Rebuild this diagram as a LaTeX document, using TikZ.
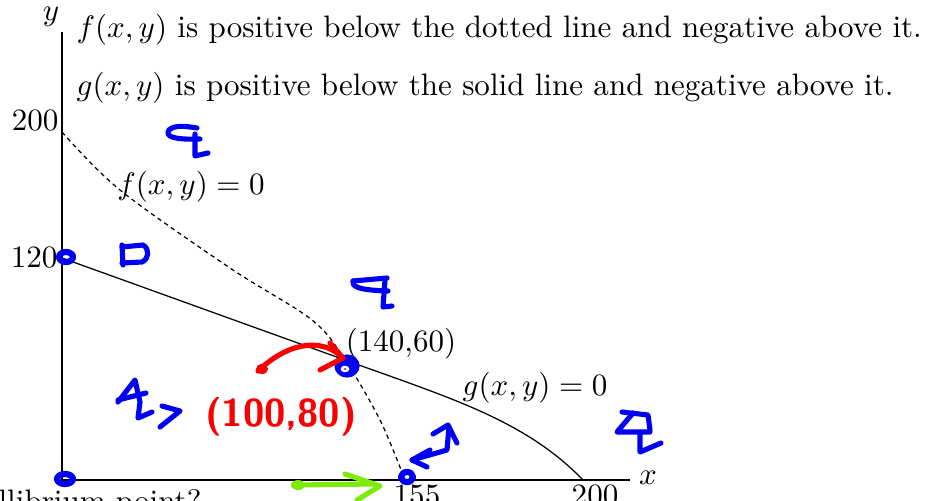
\documentclass[tikz,border=0pt]{standalone}
\definecolor{hblue}{RGB}{0,0,245}
\definecolor{hred}{RGB}{250,0,0}
\definecolor{hgreen}{RGB}{125,235,10}
\begin{document}
\begin{tikzpicture}[x=0.3222pt,y=-0.3222pt,
  axisline/.style={line width=0.4pt},
  fcurve/.style={dash pattern=on 1.4pt off 1.2pt, line width=0.4pt},
  gcurve/.style={line width=0.4pt},
  lbl/.style={inner sep=0pt},
  hand/.style={line width=1.65pt, line cap=round, line join=round},
  hb/.style={hand, draw=hblue},
  hr/.style={hand, draw=hred},
  hg/.style={hand, draw=hgreen}]
\useasboundingbox (0,0) rectangle (931,501);
% axes
\coordinate (O) at (62,480);
\coordinate (Ytop) at (62,32);
\coordinate (Xend) at (630,480);
\coordinate (F0) at (62,132);
\coordinate (G0) at (62,258);
\coordinate (P) at (345,360);
\coordinate (F1) at (405,480);
\coordinate (G1) at (583,480);
\draw[axisline] (Ytop) -- (O) -- (Xend);
\node[lbl] (ylab) at (51,17) {$y$};
\node[lbl] (xlab) at (648,478) {$x$};
\node[lbl, anchor=east] (t200y) at (59,121) {200};
\node[lbl, anchor=east] (t120) at (58,258) {120};
\node[lbl, anchor=north] (t155) at (417,484) {155};
\node[lbl, anchor=north] (t200x) at (595,484) {200};
% curves
\draw[fcurve] plot[smooth, tension=0.55] coordinates {(62,132) (120,190) (230,268) (312,320) (345,360) (380,420) (405,480)};
\draw[gcurve] (G0) -- (P) .. controls (450,398) and (525,420) .. (G1);
% labels
\node[lbl] (flab) at (191,187) {$f(x,y)=0$};
\node[lbl] (plab) at (401,344) {(140,60)};
\node[lbl] (glab) at (535,388) {$g(x,y)=0$};
\node[lbl, anchor=west] (line1) at (76,30) {$f(x,y)$ is positive below the dotted line and negative above it.};
\node[lbl, anchor=west] (line2) at (76,88) {$g(x,y)$ is positive below the solid line and negative above it.};
\node[lbl, anchor=base west] (quest) at (-2,511) {llibrium point?};
% blue hand marks
\draw[hb] (197,128) .. controls (185,126) and (174,125) .. (169,130) .. controls (165,136) and (172,140) .. (200,139);
\draw[hb] (195,134) -- (195,156) -- (208,153);
\draw[hb] (122,247) -- (143,245) .. controls (150,249) and (149,259) .. (142,262) -- (122,263);
\draw[hb] (122,245) -- (123,265);
\draw[hb] (353,281) -- (387,278);
\draw[hb] (353,281) .. controls (352,286) and (356,290) .. (388,291);
\draw[hb] (385,280) -- (383,307) -- (392,306);
\draw[hb] (118,402) -- (135,380) -- (140,402) -- (138,418) -- (152,412);
\draw[hb] (118,400) -- (146,393);
\draw[hb] (162,406) -- (180,411) -- (160,427);
\draw[hb] (430,450) -- (412,460) -- (427,467);
\draw[hb] (412,460) -- (447,450) -- (449,427);
\draw[hb] (433,434) -- (448,425) -- (457,443);
\draw[hb] (622,412) -- (648,415) -- (650,430);
\draw[hb] (633,413) -- (617,432) -- (650,432);
\draw[hb] (640,432) -- (640,452) -- (661,443);
% blue ellipses
\draw[hb, line width=2pt] (66,257) ellipse [x radius=7, y radius=5];
\draw[hb, fill=hblue] (347,366) ellipse [x radius=10, y radius=9];
\draw[line width=0.8pt, draw=white] (345,369) ellipse [x radius=3, y radius=2];
\draw[hb, line width=2pt] (65,479) ellipse [x radius=8, y radius=5];
\draw[hb, line width=2pt] (407,477) ellipse [x radius=6, y radius=5];
% red arrow and text
\fill[hred] (262,369) ellipse [x radius=6, y radius=5];
\draw[hr] (258,371) .. controls (285,345) and (320,335) .. (343,358);
\draw[hr] (330,343) -- (343,358) -- (320,370);
\node[lbl, text=hred, font=\fontsize{12.5}{12.5}\selectfont\sffamily\bfseries] (red) at (281,417) {(100,80)};
% green arrow
\fill[hgreen] (298,485) ellipse [x radius=7, y radius=5];
\draw[hg] (298,485) -- (372,484);
\draw[hg] (345,474) -- (380,486) -- (357,500);
\end{tikzpicture}
\end{document}
